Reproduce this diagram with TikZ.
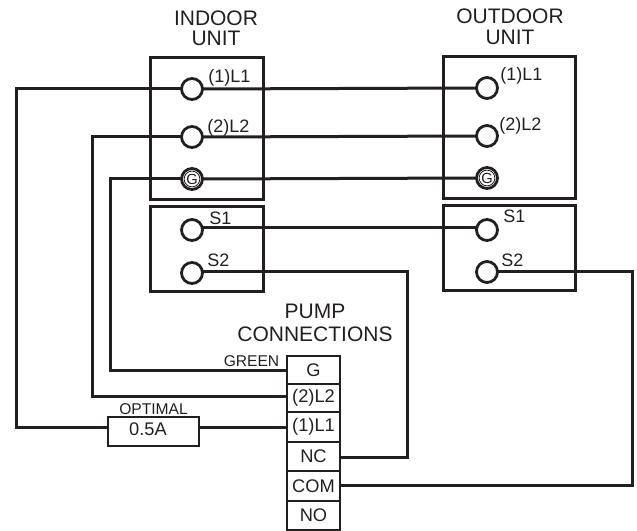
\documentclass[tikz,border=0pt]{standalone}
\usepackage{fontspec}
\setmainfont{Liberation Sans}
\definecolor{ink}{HTML}{231F20}
\tikzset{
  x=0.75pt,y=-0.75pt,
  wire/.style={draw=ink,line width=2.25pt,line join=miter},
  unitbox/.style={draw=ink,line width=2.25pt,rectangle,outer sep=0pt,anchor=north west,inner sep=0pt},
  term/.style={draw=ink,line width=2.1pt,circle,outer sep=0pt,minimum size=15.75pt,inner sep=0pt,fill=white},
  gring/.style={draw=ink,line width=0.6pt,circle,outer sep=0pt,minimum size=11.8pt,inner sep=0pt,text=ink,font=\fontsize{11pt}{11pt}\selectfont},
  lab/.style={text=ink,font=\fontsize{13.5pt}{13.5pt}\selectfont,inner sep=0pt,anchor=base west},
  title/.style={text=ink,font=\fontsize{15.75pt}{15.75pt}\selectfont,inner sep=0pt,anchor=base},
  small/.style={text=ink,font=\fontsize{11.7pt}{11.7pt}\selectfont,inner sep=0pt,anchor=base},
  cell/.style={draw=ink,line width=2.1pt,rectangle,outer sep=0pt,minimum width=39.75pt,inner sep=0pt,text=ink,font=\fontsize{13.7pt}{13.7pt}\selectfont},
}
\begin{document}
\begin{tikzpicture}
\useasboundingbox (0,0) rectangle (637,531);
% unit boxes
\node[unitbox,minimum width=84.75pt,minimum height=106.5pt] (ibox) at (150,58) {};
\node[unitbox,minimum width=84.75pt,minimum height=63.75pt] (ibox2) at (150,207) {};
\node[unitbox,minimum width=99pt,minimum height=106.5pt] (obox) at (443.5,57) {};
\node[unitbox,minimum width=99pt,minimum height=63.75pt] (obox2) at (443.5,206) {};
% terminal strip
\node[cell,minimum height=21pt] (tg) at (313.5,370) {G};
\node[cell,minimum height=21pt] (tl2) at (313.5,398) {(2)L2};
\node[cell,minimum height=22.5pt] (tl1) at (313.5,427) {(1)L1};
\node[cell,minimum height=21.75pt] (tnc) at (313.5,456.5) {NC};
\node[cell,minimum height=22.5pt] (tcom) at (313.5,486) {COM};
\node[cell,minimum height=21.75pt] (tno) at (313.5,515.5) {NO};
% fuse
\node[draw=ink,line width=2.1pt,rectangle,outer sep=0pt,minimum width=68.25pt,minimum height=21.75pt,inner sep=0pt] (fuse) at (153.5,431.5) {};
\node[text=ink,font=\fontsize{13.7pt}{13.7pt}\selectfont,inner sep=0pt,anchor=base] (fuselab) at (148,436) {0.5A};
% terminals
\node[term] (il1) at (192,89) {};
\node[term] (il2) at (192,137) {};
\node[term] (ig) at (192,179) {};
\node[term] (is1) at (192,230) {};
\node[term] (is2) at (192,273) {};
\node[term] (ol1) at (487,88) {};
\node[term] (ol2) at (487,136) {};
\node[term] (og) at (487,178) {};
\node[term] (os1) at (487,230) {};
\node[term] (os2) at (487,272) {};
% bends
\coordinate (b1a) at (16,89);
\coordinate (b1b) at (16,428);
\coordinate (b2a) at (92,137);
\coordinate (b2b) at (92,397);
\coordinate (b3a) at (110,179);
\coordinate (b3b) at (110,371);
\coordinate (b4a) at (407.5,272);
\coordinate (b4b) at (407.5,458);
\coordinate (b5a) at (632,272);
\coordinate (b5b) at (632,486);
\coordinate (s1a) at (203,227.5);
\coordinate (s1b) at (476,227.5);
% wires
\draw[wire] (il1.east) -- (ol1.west);
\draw[wire] (il2.east) -- (ol2.west);
\draw[wire] (ig.east) -- (og.west);
\draw[wire] (s1a) -- (s1b);
\draw[wire] (il1.west) -- (b1a) -- (b1b) -- (fuse.west|-b1b);
\draw[wire] (fuse.east|-b1b) -- (tl1.west|-b1b);
\draw[wire] (il2.west) -- (b2a) -- (b2b) -- (tl2.west|-b2b);
\draw[wire] (ig.west) -- (b3a) -- (b3b) -- (tg.west|-b3b);
\draw[wire] (is2.east|-b4a) -- (b4a) -- (b4b) -- (tnc.east|-b4b);
\draw[wire] (os2.east|-b5a) -- (b5a) -- (b5b) -- (tcom.east|-b5b);
% G marks
\node[gring] (igr) at (ig) {G};
\node[gring] (ogr) at (og) {G};
% labels
\node[lab] (t1) at (208,83) {(1)L1};
\node[lab] (t2) at (207,133) {(2)L2};
\node[lab] (t3) at (209,225) {S1};
\node[lab] (t4) at (207,267) {S2};
\node[lab] (t5) at (500,81) {(1)L1};
\node[lab] (t6) at (499,131) {(2)L2};
\node[lab] (t7) at (503,223) {S1};
\node[lab] (t8) at (501,267) {S2};
\node[title] (n1a) at (216,26) {INDOOR};
\node[title] (n1b) at (216,46) {UNIT};
\node[title] (n2a) at (510,24) {OUTDOOR};
\node[title] (n2b) at (510,45) {UNIT};
\node[title] (n3a) at (315,319) {PUMP};
\node[title] (n3b) at (315,342) {CONNECTIONS};
\node[small] (n4) at (251.5,367) {GREEN};
\node[small] (n5) at (153.5,415) {OPTIMAL};
\end{tikzpicture}
\end{document}
